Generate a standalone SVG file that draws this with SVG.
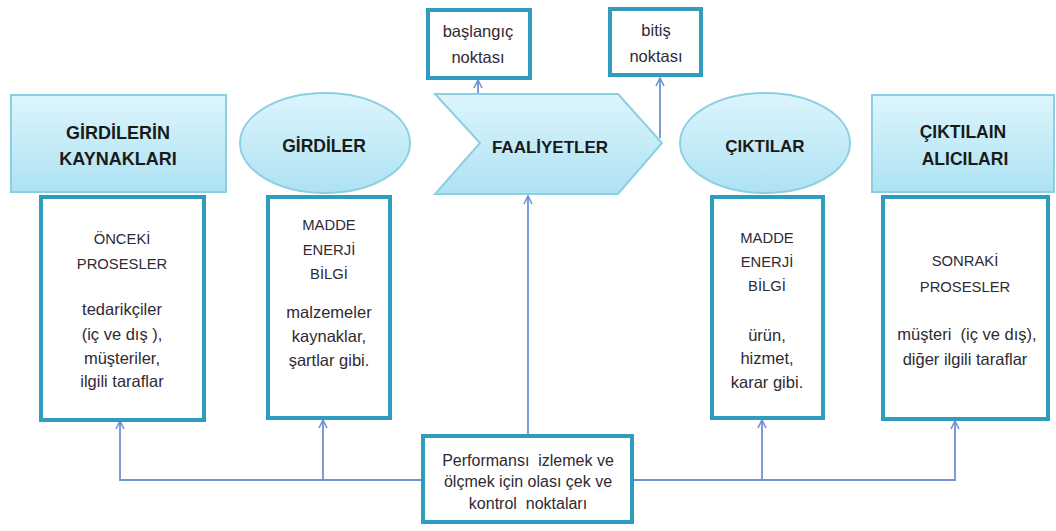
<svg xmlns="http://www.w3.org/2000/svg" width="1056" height="531" viewBox="0 0 1056 531">
<defs>
<linearGradient id="lb" x1="0" y1="0" x2="0" y2="1">
<stop offset="0" stop-color="#ddf5fc"/>
<stop offset="1" stop-color="#ade2f3"/>
</linearGradient>
<marker id="ah" viewBox="0 0 10 10" refX="9" refY="5" markerWidth="10" markerHeight="10" markerUnits="userSpaceOnUse" orient="auto">
<path d="M1,1 L9,5 L1,9" fill="none" stroke="#6e92d2" stroke-width="1.6"/>
</marker>
<style>
.hd{fill:url(#lb);stroke:#8ccfe2;stroke-width:2}
.bx{fill:#fff;stroke:#2f9cbf;stroke-width:4}
.ht{font-family:"Liberation Sans",Arial,sans-serif;font-weight:bold;font-size:18px;fill:#1a1a1a;text-anchor:middle}
.bc{font-family:"Liberation Sans",Arial,sans-serif;font-size:14.8px;fill:#2f2a33;text-anchor:middle}
.bl{font-family:"Liberation Sans",Arial,sans-serif;font-size:16.5px;fill:#2f2a33;text-anchor:middle;white-space:pre}
.cn{fill:none;stroke:#6e92d2;stroke-width:1.8}
</style>
</defs>
<rect width="1056" height="531" fill="#fff"/>

<g id="connectors">
<path class="cn" d="M528,436 V196" marker-end="url(#ah)"/>
<path class="cn" d="M478,140 V80" marker-end="url(#ah)"/>
<path class="cn" d="M660,138 V78" marker-end="url(#ah)"/>
<path class="cn" d="M423,480 H120 V421" marker-end="url(#ah)"/>
<path class="cn" d="M323,480 V420" marker-end="url(#ah)"/>
<path class="cn" d="M632,480 H955 V421" marker-end="url(#ah)"/>
<path class="cn" d="M762,480 V420" marker-end="url(#ah)"/>
</g>

<g id="girdilerin-kaynaklari">
<rect class="hd" x="11" y="95" width="215" height="97"/>
<text class="ht" x="118" y="139">GİRDİLERİN</text>
<text class="ht" x="118" y="165">KAYNAKLARI</text>
</g>
<g id="onceki-prosesler">
<rect class="bx" x="41" y="197" width="163" height="223"/>
<text class="bc" x="122" y="244">ÖNCEKİ</text>
<text class="bc" x="122" y="269">PROSESLER</text>
<text class="bl" x="122" y="315">tedarikçiler</text>
<text class="bl" x="122" y="340">(iç ve dış ),</text>
<text class="bl" x="122" y="364">müşteriler,</text>
<text class="bl" x="122" y="387">ilgili taraflar</text>
</g>

<g id="girdiler">
<ellipse class="hd" cx="325" cy="143" rx="85" ry="50"/>
<text class="ht" x="324" y="152" style="font-size:17.5px">GİRDİLER</text>
</g>
<g id="girdiler-detay">
<rect class="bx" x="268" y="197" width="122" height="221"/>
<text class="bc" x="329" y="230">MADDE</text>
<text class="bc" x="329" y="255">ENERJİ</text>
<text class="bc" x="329" y="279">BİLGİ</text>
<text class="bl" x="329" y="318">malzemeler</text>
<text class="bl" x="329" y="342">kaynaklar,</text>
<text class="bl" x="329" y="366">şartlar gibi.</text>
</g>

<g id="faaliyetler">
<polygon class="hd" points="435,94 618,94 662,143 618,194 435,194 480,143"/>
<text class="ht" x="550" y="153" style="font-size:17px">FAALİYETLER</text>
</g>

<g id="baslangic">
<rect class="bx" x="428" y="10" width="102" height="68"/>
<text class="bl" x="478" y="37">başlangıç</text>
<text class="bl" x="478" y="63">noktası</text>
</g>
<g id="bitis">
<rect class="bx" x="610" y="9" width="91" height="66"/>
<text class="bl" x="656" y="36">bitiş</text>
<text class="bl" x="656" y="62">noktası</text>
</g>

<g id="ciktilar">
<ellipse class="hd" cx="765" cy="143" rx="85" ry="50"/>
<text class="ht" x="765" y="152" style="font-size:17px">ÇIKTILAR</text>
</g>
<g id="ciktilar-detay">
<rect class="bx" x="712" y="197" width="111" height="221"/>
<text class="bc" x="767" y="243">MADDE</text>
<text class="bc" x="767" y="267">ENERJİ</text>
<text class="bc" x="767" y="291">BİLGİ</text>
<text class="bl" x="767" y="341">ürün,</text>
<text class="bl" x="767" y="364">hizmet,</text>
<text class="bl" x="767" y="388">karar gibi.</text>
</g>

<g id="ciktilain-alicilari">
<rect class="hd" x="872" y="95" width="182" height="97"/>
<text class="ht" x="963" y="138" style="font-size:17.5px">ÇIKTILAIN</text>
<text class="ht" x="965" y="165" style="font-size:17.5px">ALICILARI</text>
</g>
<g id="sonraki-prosesler">
<rect class="bx" x="883" y="197" width="165" height="222"/>
<text class="bc" x="965" y="266">SONRAKİ</text>
<text class="bc" x="965" y="292">PROSESLER</text>
<text class="bl" x="967" y="340">müşteri  (iç ve dış),</text>
<text class="bl" x="965" y="365">diğer ilgili taraflar</text>
</g>

<g id="performans">
<rect class="bx" x="423" y="436" width="209" height="86"/>
<text class="bl" x="528" y="466" style="font-size:16px">Performansı  izlemek ve</text>
<text class="bl" x="528" y="487" style="font-size:16px">ölçmek için olası çek ve</text>
<text class="bl" x="528" y="509" style="font-size:16px">kontrol  noktaları</text>
</g>
</svg>
